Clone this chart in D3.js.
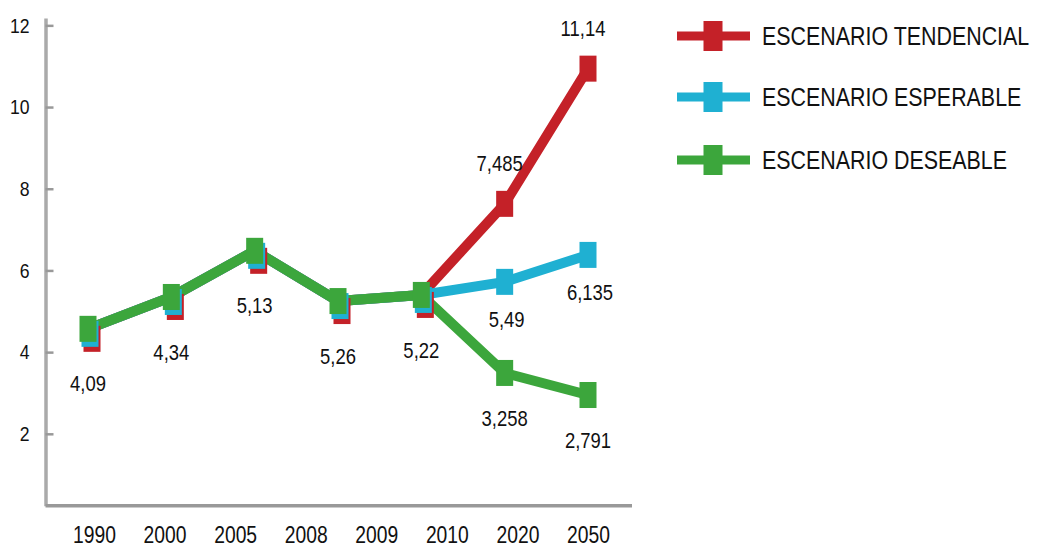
<!DOCTYPE html>
<html>
<head>
<meta charset="utf-8">
<script src="https://cdn.jsdelivr.net/npm/d3@7"></script>
<style>
  body { margin: 0; background: #fff; }
  svg text { font-family: "Liberation Sans", Arial, sans-serif; fill: #111; }
</style>
</head>
<body>
<svg width="1050" height="553"></svg>
<script>
// axis categories and the points where the markers sit
const years = ["1990", "2000", "2005", "2008", "2009", "2010", "2020", "2050"];
const periods = ["p1990", "p2000", "p2005", "p2008", "p2010", "p2020", "p2050"];
const yTicks = [2, 4, 6, 8, 10, 12];

// plotted positions
const tendencial = [4.57, 5.35, 6.48, 5.25, 5.40, 7.63, 10.94];
const esperable  = [4.57, 5.35, 6.48, 5.25, 5.40, 5.72, 6.38];
const deseable   = [4.57, 5.35, 6.48, 5.25, 5.40, 3.49, 2.95];

// printed labels
const labelsTendencial = ["4,09", "4,34", "5,13", "5,26", "5,22", "7,485", "11,14"];
const labelsEsperable  = [null, null, null, null, null, "5,49", "6,135"];
const labelsDeseable   = [null, null, null, null, null, "3,258", "2,791"];

const names = ["ESCENARIO TENDENCIAL", "ESCENARIO ESPERABLE", "ESCENARIO DESEABLE"];

const squeeze = 0.84; // the original type is a narrow grotesque

let svg = d3.select("svg");

let x = d3.scalePoint().domain(periods).range([88, 588]);
let xLab = d3.scalePoint().domain(years).range([94, 588]);
let y = d3.scaleLinear().domain([0.24, 12.18]).range([505.7, 18]);

let series = [
  {name: names[0], color: "#c42128", values: tendencial, labels: labelsTendencial, sdx: 4, sdy: 10, ldx: -5, ldy: -40},
  {name: names[1], color: "#1fb0d2", values: esperable, labels: labelsEsperable, sdx: 2, sdy: 5, ldx: 2, ldy: 38},
  {name: names[2], color: "#3ca63c", values: deseable, labels: labelsDeseable, sdx: 0, sdy: 0, ldx: 0, ldy: 45}
];

// y axis
let yAxis = d3.axisLeft(y).tickValues(yTicks).tickSize(-8).tickSizeOuter(0).tickPadding(16 / squeeze);
let gy = svg.append("g").attr("transform", "translate(45.5,0)").call(yAxis);
gy.select(".domain").attr("stroke", "#aaa").attr("stroke-width", 3.5);
gy.selectAll(".tick line").attr("stroke", "#999").attr("stroke-width", 2.5);
gy.selectAll(".tick text").attr("font-size", 21).attr("fill", "#111")
  .attr("transform", "scale(" + squeeze + ",1)");

// x axis
let xAxis = d3.axisBottom(xLab).tickSize(0).tickPadding(0);
let gx = svg.append("g").attr("transform", "translate(0," + y(0.24) + ")").call(xAxis);
gx.select(".domain").remove();
gx.selectAll(".tick text").attr("font-size", 23).attr("fill", "#111")
  .attr("dy", "1.62em")
  .attr("transform", "scale(" + squeeze + ",1)");
svg.append("line")
  .attr("x1", 45.5).attr("x2", 632)
  .attr("y1", y(0.24)).attr("y2", y(0.24))
  .attr("stroke", "#999").attr("stroke-width", 3.5);

// lines and markers
let line = d3.line().x((d, i) => x(periods[i])).y(d => y(d));
let shared = (s, i) => s.values[i] === deseable[i];

series.forEach(s => {
  svg.append("path")
    .datum(s.values)
    .attr("d", line)
    .attr("fill", "none")
    .attr("stroke", s.color)
    .attr("stroke-width", 10);
});

series.forEach(s => {
  svg.append("g").selectAll("rect")
    .data(s.values)
    .join("rect")
    .attr("x", (d, i) => x(periods[i]) - 8.5 + (shared(s, i) ? s.sdx : 0))
    .attr("y", (d, i) => y(d) - 13 + (shared(s, i) ? s.sdy : 0))
    .attr("width", 17)
    .attr("height", 26)
    .attr("fill", s.color);
});

// data labels
series.forEach(s => {
  svg.append("g").selectAll("text")
    .data(s.values.map((v, i) => ({v, i, t: s.labels[i]})).filter(d => d.t))
    .join("text")
    .attr("transform", d => "translate(" + (x(periods[d.i]) + (d.i < 5 ? 0 : s.ldx)) + "," +
      (y(d.v) + (d.i < 5 ? 55 : s.ldy)) + ") scale(" + squeeze + ",1)")
    .attr("text-anchor", "middle")
    .attr("dominant-baseline", "central")
    .attr("font-size", 22)
    .text(d => d.t);
});

// legend
let legend = svg.append("g").attr("transform", "translate(677,36)");
let item = legend.selectAll("g")
  .data(series)
  .join("g")
  .attr("transform", (d, i) => "translate(0," + [0, 61, 124][i] + ")");
item.append("line")
  .attr("x1", 0).attr("x2", 73)
  .attr("stroke", d => d.color)
  .attr("stroke-width", 9);
item.append("rect")
  .attr("x", 26.5).attr("y", -15)
  .attr("width", 19).attr("height", 30)
  .attr("fill", d => d.color);
item.append("text")
  .attr("transform", "translate(85,0) scale(" + squeeze + ",1)")
  .attr("dominant-baseline", "central")
  .attr("font-size", 25.5)
  .text(d => d.name);
</script>
</body>
</html>
